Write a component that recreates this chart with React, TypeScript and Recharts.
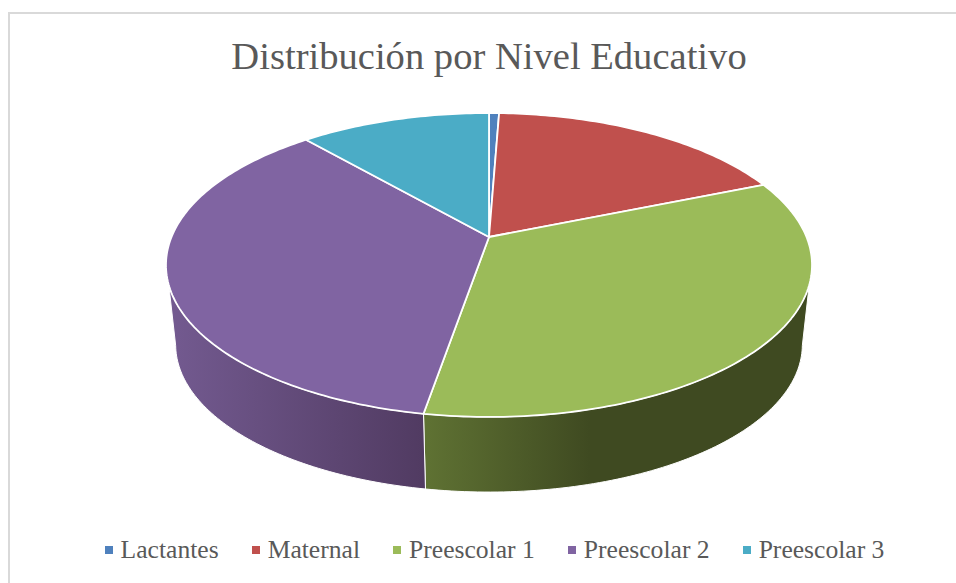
import { Cell, Legend, Pie, PieChart } from 'recharts';

const categories = ['Lactantes', 'Maternal', 'Preescolar 1', 'Preescolar 2', 'Preescolar 3'];
const shares = [0.6, 18.2, 33.9, 35.9, 11.4];
const topColors = ['#4f81bd', '#c0504d', '#9bbb59', '#8064a2', '#4bacc6'];
const wallColors = ['#2f4d71', '#73302e', 'url(#wallGreen)', 'url(#wallPurple)', '#2d6776'];

const tableData = categories.map((name, i) => ({ name, value: shares[i] }));

// the tilted disc: a circle seen in perspective
const TILT = 0.4624;
const PERSPECTIVE = 0.1842;
const WALL_SCALE = 0.97;
const WALL_DROP = 80.5;

function project(cx: number, cy: number, r: number, deg: number) {
  const t = (deg * Math.PI) / 180;
  const w = 1 + PERSPECTIVE * Math.cos(t);
  return [cx + (r * Math.sin(t)) / w, cy - (r * TILT * Math.cos(t)) / w];
}

function arc(cx: number, cy: number, r: number, from: number, to: number) {
  const pts: number[][] = [];
  const steps = Math.max(2, Math.ceil(Math.abs(to - from)));
  for (let i = 0; i <= steps; i++) pts.push(project(cx, cy, r, from + ((to - from) * i) / steps));
  return pts;
}

const toPath = (pts: number[][]) =>
  pts.map((p, i) => `${i ? 'L' : 'M'}${p[0].toFixed(2)},${p[1].toFixed(2)}`).join(' ') + ' Z';

function TopSlice(props: any) {
  const { cx, cy, outerRadius, startAngle, endAngle, fill } = props;
  const pts = [[cx, cy], ...arc(cx, cy, outerRadius, 90 - startAngle, 90 - endAngle)];
  return <path d={toPath(pts)} fill={fill} stroke="#ffffff" strokeWidth={1.8} strokeLinejoin="round" />;
}

function WallSlice(props: any) {
  const { cx, cy, outerRadius, startAngle, endAngle, fill } = props;
  const a0 = 90 - startAngle;
  const a1 = 90 - endAngle;
  // only the front of the rim can be seen
  const topFrom = Math.max(a0, 108);
  const topTo = Math.min(a1, 252);
  if (topFrom >= topTo) return null;
  const lowFrom = Math.max(a0, 101);
  const lowTo = Math.min(a1, 259);
  const upper = arc(cx, cy, outerRadius, topFrom, topTo);
  const lower = arc(cx, cy + WALL_DROP, outerRadius * WALL_SCALE, lowTo, lowFrom);
  return <path d={toPath([...upper, ...lower])} fill={fill} stroke="#ffffff" strokeWidth={1} strokeLinejoin="round" />;
}

function LegendRow({ payload }: any) {
  const items = (payload || []).filter((item: any) => item.type !== 'none');
  return (
    <div style={{ display: 'flex', justifyContent: 'center', alignItems: 'center', gap: 33, paddingLeft: 33 }}>
      {items.map((item: any) => (
        <div key={item.value} style={{ display: 'flex', alignItems: 'center', gap: 8 }}>
          <span style={{ width: 8, height: 8, background: item.color, display: 'block' }} />
          <span style={{ fontFamily: 'Liberation Serif', fontSize: 25.6, color: '#595959', lineHeight: '28px', whiteSpace: 'nowrap' }}>
            {item.value}
          </span>
        </div>
      ))}
    </div>
  );
}

export default function App() {
  return (
    <div style={{ position: 'absolute', left: 0, top: 0, width: 956, height: 583, background: '#fff', overflow: 'hidden' }}>
      <div
        style={{
          position: 'absolute',
          left: 8,
          top: 12,
          width: 948,
          height: 571,
          borderTop: '2px solid #d9d9d9',
          borderLeft: '2px solid #d9d9d9',
          boxSizing: 'border-box',
        }}
      />
      <PieChart width={956} height={583} margin={{ top: 0, right: 0, bottom: 0, left: 0 }} style={{ position: 'absolute', left: 0, top: 0 }}>
        <defs>
          <linearGradient id="wallGreen" gradientUnits="userSpaceOnUse" x1={425} y1={0} x2={590} y2={0}>
            <stop offset="0" stopColor="#5f7233" />
            <stop offset="1" stopColor="#3f4a21" />
          </linearGradient>
          <linearGradient id="wallPurple" gradientUnits="userSpaceOnUse" x1={170} y1={0} x2={423} y2={0}>
            <stop offset="0" stopColor="#735a90" />
            <stop offset="1" stopColor="#513b62" />
          </linearGradient>
        </defs>
        <text x={489} y={69} textAnchor="middle" fontFamily="Liberation Serif" fontSize={38.6} fill="#595959">
          Distribución por Nivel Educativo
        </text>
        <Pie
          data={tableData}
          dataKey="value"
          nameKey="name"
          cx={489}
          cy={237}
          outerRadius={317.5}
          startAngle={90}
          endAngle={-270}
          legendType="none"
          shape={WallSlice}
          stroke="none"
          isAnimationActive={false}
        >
          {wallColors.map((c) => (
            <Cell key={c} fill={c} />
          ))}
        </Pie>
        <Pie
          data={tableData}
          dataKey="value"
          nameKey="name"
          cx={489}
          cy={237}
          outerRadius={317.5}
          startAngle={90}
          endAngle={-270}
          shape={TopSlice}
          stroke="none"
          isAnimationActive={false}
        >
          {topColors.map((c) => (
            <Cell key={c} fill={c} />
          ))}
        </Pie>
        <Legend content={LegendRow} verticalAlign="bottom" wrapperStyle={{ left: 0, top: 536, width: 956 }} />
      </PieChart>
    </div>
  );
}
